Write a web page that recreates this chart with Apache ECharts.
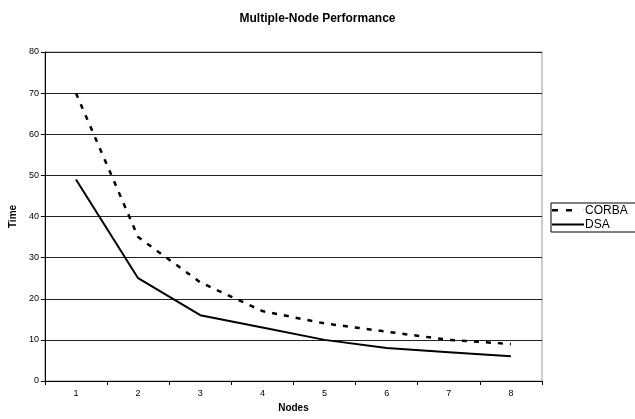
<!DOCTYPE html>
<html>
<head>
<meta charset="utf-8">
<script src="https://cdn.jsdelivr.net/npm/echarts@6/dist/echarts.min.js"></script>
<style>html,body{margin:0;padding:0;background:#fff;}#c{width:635px;height:419px;}</style>
</head>
<body>
<div id="c"></div>
<script>
const categories = ['1','2','3','4','5','6','7','8'];
const corba = [70, 35, 24, 17, 14, 12, 10, 9];
const dsa = [49, 25, 16, 13, 10, 8, 7, 6];
const yTicks = {min: 0, max: 80, interval: 10};

const chart = echarts.init(document.getElementById('c'), null, {renderer: 'canvas'});
const font = 'Liberation Sans, Arial, sans-serif';
chart.setOption({
  animation: false,
  backgroundColor: '#fff',
  title: {
    text: 'Multiple-Node Performance',
    left: 'center', top: 8,
    textStyle: {fontFamily: font, fontSize: 12, fontWeight: 'bold', color: '#000'}
  },
  grid: {left: 42, top: 52, width: 500, height: 329, show: true, borderColor: '#999', borderWidth: 1, containLabel: false},
  legend: {
    orient: 'vertical', left: 551, top: 203,
    itemWidth: 32, itemHeight: 3, itemGap: 1,
    padding: [1, 60, 1, 1],
    borderColor: '#000', borderWidth: 1,
    textStyle: {fontFamily: font, fontSize: 12, color: '#000', padding: [0,0,0,-4], lineHeight: 13},
    data: [
      {name: 'CORBA', icon: 'path://M0,0h6v2.6h-6z M14,0h6v2.6h-6z M31.9,0h0.1v3h-0.1z', itemStyle: {color: '#000', borderWidth: 0, opacity: 1}},
      {name: 'DSA', icon: 'path://M0,0.5h32v2h-32z M0,0h0.01v3h-0.01z', itemStyle: {color: '#000', borderWidth: 0, opacity: 1}}
    ]
  },
  xAxis: {
    type: 'category', data: categories, boundaryGap: true,
    name: 'Nodes', nameLocation: 'middle', nameGap: 21,
    nameTextStyle: {fontFamily: font, fontSize: 10, fontWeight: 'bold', color: '#000'},
    axisLine: {lineStyle: {color: '#000', width: 1}},
    axisTick: {show: true, length: 4, lineStyle: {color: '#000'}},
    axisLabel: {fontFamily: font, fontSize: 9, color: '#000', margin: 8},
    splitLine: {show: false}
  },
  yAxis: {
    type: 'value', min: yTicks.min, max: yTicks.max, interval: yTicks.interval,
    name: 'Time', nameLocation: 'middle', nameGap: 24, nameRotate: 90,
    nameTextStyle: {fontFamily: font, fontSize: 10, fontWeight: 'bold', color: '#000'},
    axisLine: {show: true, lineStyle: {color: '#000', width: 1}},
    axisTick: {show: true, length: 4, lineStyle: {color: '#000'}},
    axisLabel: {fontFamily: font, fontSize: 9, color: '#000', margin: 6},
    splitLine: {show: true, lineStyle: {color: '#222', width: 1}}
  },
  series: [
    {name: 'CORBA', type: 'line', data: corba, symbol: 'none',
     lineStyle: {color: '#000', width: 2.5, type: [5, 7]}, itemStyle: {color: '#000'}},
    {name: 'DSA', type: 'line', data: dsa, symbol: 'none',
     lineStyle: {color: '#000', width: 2, type: 'solid'}, itemStyle: {color: '#000'}}
  ]
});
</script>
</body>
</html>
